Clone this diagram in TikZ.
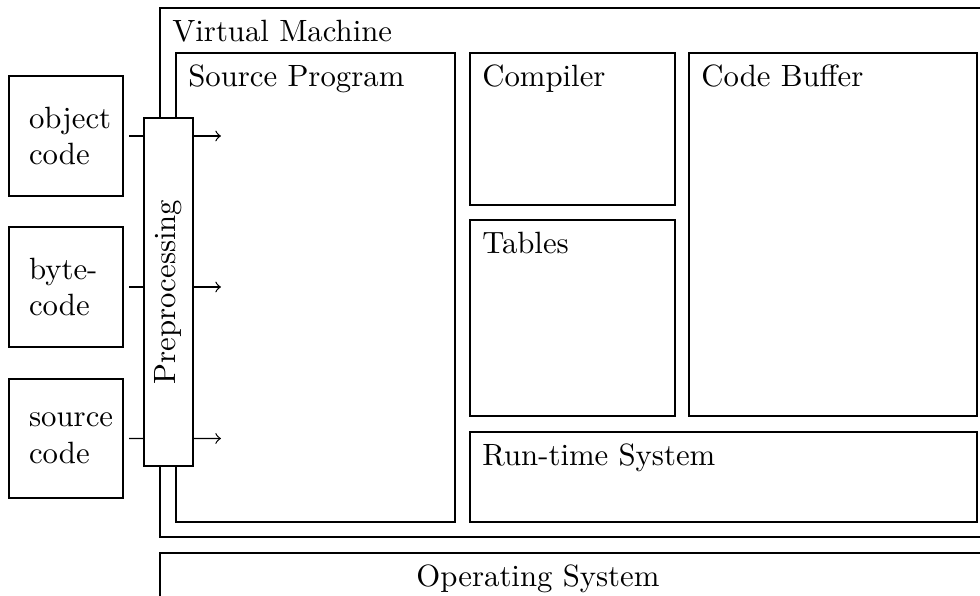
\documentclass[tikz,border=0pt]{standalone}
\usetikzlibrary{fit}
\begin{document}
\begin{tikzpicture}[x=0.325pt,y=-0.325pt,
  box/.style={draw,line width=0.4pt,inner sep=0pt,outer sep=0pt},
  lbl/.style={anchor=north west,inner sep=3.8pt},
  srctext/.style={align=left,text width=26pt,inner sep=0pt}
]
\useasboundingbox (0,0) rectangle (980,596);
\clip (0,0) rectangle (980,596);

% main containers
\node[box,fit={(160,8) (1000,537)}] (vm) {};
\node[box,fit={(160,553) (1000,640)}] (os) {};
\node[box,fit={(176,53) (455,522)}] (sp) {};
\node[box,fit={(470,53) (675,205)}] (comp) {};
\node[box,fit={(470,220) (675,416)}] (tab) {};
\node[box,fit={(689,53) (977,416)}] (cb) {};
\node[box,fit={(470,432) (977,522)}] (rt) {};

% labels
\node[lbl] (vml) at (vm.north west) {Virtual Machine};
\node[lbl] (spl) at (sp.north west) {Source Program};
\node[lbl] (compl) at (comp.north west) {Compiler};
\node[lbl] (tabl) at (tab.north west) {Tables};
\node[lbl] (cbl) at (cb.north west) {Code Buffer};
\node[lbl] (rtl) at (rt.north west) {Run-time System};
\node[anchor=north,inner sep=3.8pt] (osl) at (538,553) {Operating System};

% input boxes
\node[box,fit={(9,76) (123,196)}] (obj) {};
\node[box,fit={(9,227) (123,347)}] (byte) {};
\node[box,fit={(9,379) (123,498)}] (scode) {};
\node[srctext] (objl) at ([xshift=1pt]obj.center) {object\\code};
\node[srctext] (bytel) at ([xshift=1pt]byte.center) {byte-\\code};
\node[srctext] (scodel) at ([xshift=1pt]scode.center) {source\\code};

% arrows
\coordinate (a1) at (221,136);
\coordinate (a2) at (221,287);
\coordinate (a3) at (221,438.5);
\draw[->] ([xshift=2pt]obj.east) -- (a1);
\draw[->] ([xshift=2pt]byte.east) -- (a2);
\draw[->] ([xshift=2pt]scode.east) -- (a3);

% preprocessing bar
\node[box,fill=white,fit={(144,118) (193,466)}] (pre) {};
\node[rotate=90] (prel) at (pre.center) {Preprocessing};
\end{tikzpicture}
\end{document}
